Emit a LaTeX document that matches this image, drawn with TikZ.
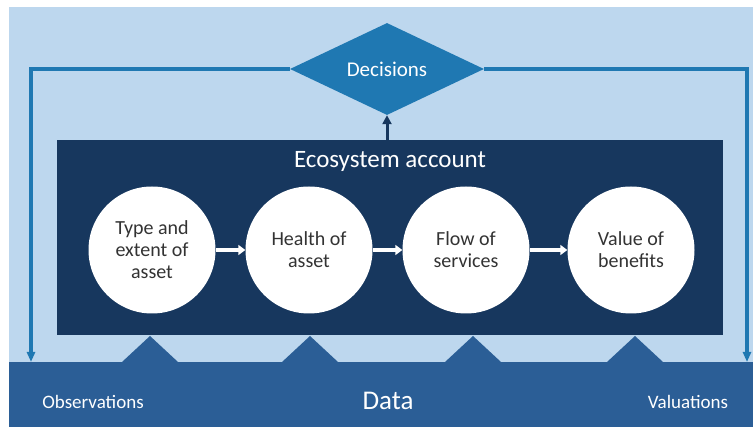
\documentclass[tikz,border=0pt]{standalone}
\usepackage{fontspec}
\setmainfont{Carlito}
\usetikzlibrary{positioning,shapes.geometric,arrows.meta}

\definecolor{skyback}{HTML}{BDD7EE}
\definecolor{databand}{HTML}{2B5E96}
\definecolor{navybox}{HTML}{17375E}
\definecolor{loopblue}{HTML}{1F78B2}

\begin{document}
\begin{tikzpicture}[
    x=1pt, y=-1pt,
    stage/.style={circle, fill=white, minimum size=127pt, inner sep=0pt, align=center, font=\fontsize{20}{22}\selectfont, text=black!80},
    flow/.style={draw=white, line width=3.5pt, -{Triangle[length=7pt,width=10pt]}},
    feedback/.style={draw=loopblue, line width=3.5pt, -{Triangle[length=10pt,width=8pt]}},
    bump/.style={fill=databand, draw=none},
    label/.style={text=white, font=\fontsize{19}{21}\selectfont}
]

% Canvas and panels
\useasboundingbox (0,0) rectangle (753,427);
\fill[white] (0,0) rectangle (753,427);
\fill[skyback] (9,7) rectangle (753,362);
\fill[databand] (9,362) rectangle (753,427);
\fill[navybox] (57,140) rectangle (723,335);

% Decision diamond
\node[diamond, fill=loopblue, minimum width=194pt, minimum height=92pt, aspect=2.1, inner sep=0pt, text=white, font=\fontsize{21}{23}\selectfont] (dec) at (387,69) {Decisions};

% Account box title
\node[text=white, font=\fontsize{25}{27}\selectfont] (acct) at (390,161) {Ecosystem account};
\coordinate (top) at (387,140);

% Stages of the account
\node[stage] (type)   at (152,250) {Type and\\extent of\\asset};
\node[stage] (health) at (309,250) {Health of\\asset};
\node[stage] (flow)   at (466,250) {Flow of\\services};
\node[stage] (value)  at (631,250) {Value of\\benefits};

\draw[flow] (type) -- (health);
\draw[flow] (health) -- (flow);
\draw[flow] (flow) -- (value);

% Data inputs below each stage
\foreach \cx in {150,310,473,635}
    \fill[bump] (\cx-28,362) -- (\cx,336) -- (\cx+28,362) -- cycle;

% Data band labels
\node[text=white, font=\fontsize{27}{29}\selectfont] (data) at (388,401) {Data};
\node[label] (obs) at (93,402) {Observations};
\node[label] (val) at (688,402) {Valuations};

% Feedback loop from decisions
\coordinate (lcorner) at (31,69);
\coordinate (lend) at (31,362);
\coordinate (rcorner) at (747,69);
\coordinate (rend) at (747,362);
\draw[feedback] (dec.west) -- (lcorner) -- (lend);
\draw[feedback] (dec.east) -- (rcorner) -- (rend);

% Account feeds decisions
\draw[navybox, line width=3pt, -{Triangle[length=9pt,width=9pt]}] (top) -- (dec.south);

\end{tikzpicture}
\end{document}
